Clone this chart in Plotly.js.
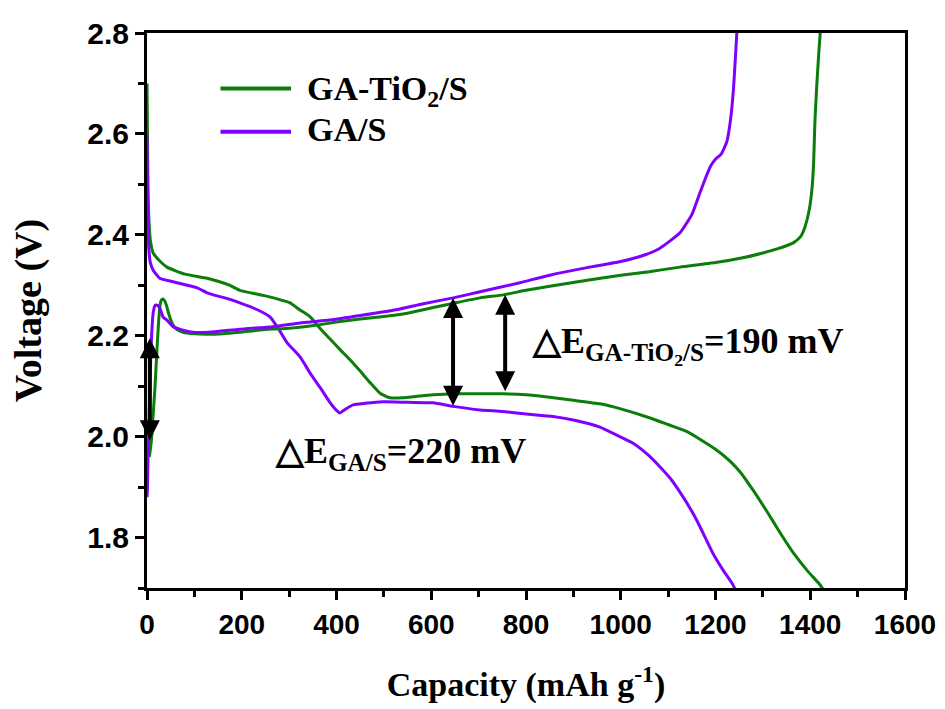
<!DOCTYPE html>
<html>
<head>
<meta charset="utf-8">
<script src="https://cdn.plot.ly/plotly-3.0.1.min.js"></script>
<style>html,body{margin:0;padding:0;background:#fff;}#chart{width:945px;height:709px;}</style>
</head>
<body>
<div id="chart"></div>
<script>
// GA-TiO2/S discharge
const capGTdis = [0, 1, 2, 4, 7, 13, 25, 42, 80, 127, 175, 196, 245, 275, 302, 323, 344, 365, 386, 407, 429, 450, 470, 492, 513, 540, 570, 604, 650, 703, 750, 800, 850, 900, 956, 1000, 1062, 1100, 1140, 1167, 1200, 1230, 1252, 1280, 1309, 1336, 1364, 1395, 1421, 1432];
const vGTdis = [2.70, 2.60, 2.50, 2.43, 2.39, 2.364, 2.35, 2.336, 2.322, 2.314, 2.30, 2.29, 2.28, 2.273, 2.265, 2.251, 2.238, 2.215, 2.194, 2.173, 2.152, 2.13, 2.108, 2.086, 2.077, 2.077, 2.08, 2.083, 2.085, 2.085, 2.085, 2.083, 2.078, 2.072, 2.065, 2.055, 2.037, 2.024, 2.01, 1.995, 1.975, 1.952, 1.93, 1.893, 1.851, 1.81, 1.77, 1.733, 1.706, 1.69];
// GA-TiO2/S charge
const capGTch = [5, 9, 12, 17, 21, 24, 27, 30, 34, 38, 42, 47, 53, 62, 76, 100, 127, 160, 196, 245, 300, 323, 365, 400, 450, 500, 534, 576, 604, 650, 703, 752, 800, 850, 929, 1000, 1060, 1125, 1200, 1260, 1300, 1330, 1364, 1380, 1389, 1398, 1404, 1407, 1410, 1414, 1418, 1421];
const vGTch = [1.96, 1.99, 2.03, 2.10, 2.172, 2.22, 2.257, 2.27, 2.273, 2.268, 2.257, 2.24, 2.225, 2.213, 2.207, 2.204, 2.203, 2.204, 2.207, 2.212, 2.215, 2.217, 2.222, 2.227, 2.233, 2.238, 2.242, 2.25, 2.256, 2.265, 2.275, 2.281, 2.29, 2.298, 2.31, 2.32, 2.327, 2.336, 2.345, 2.355, 2.364, 2.372, 2.384, 2.397, 2.416, 2.45, 2.495, 2.54, 2.628, 2.7, 2.76, 2.8];
// GA/S discharge
const capGdis = [0, 1, 2, 4, 7, 13, 27, 55, 106, 127, 175, 196, 232, 260, 280, 296, 323, 345, 365, 386, 400, 407, 420, 435, 460, 498, 550, 604, 646, 703, 750, 800, 857, 900, 956, 998, 1026, 1060, 1083, 1104, 1125, 1150, 1167, 1195, 1215, 1237, 1245];
const vGdis = [2.60, 2.50, 2.42, 2.37, 2.345, 2.33, 2.314, 2.307, 2.295, 2.285, 2.272, 2.265, 2.252, 2.237, 2.21, 2.186, 2.158, 2.125, 2.098, 2.068, 2.052, 2.047, 2.055, 2.063, 2.066, 2.069, 2.068, 2.067, 2.06, 2.053, 2.05, 2.045, 2.04, 2.033, 2.019, 2.0, 1.987, 1.962, 1.94, 1.918, 1.89, 1.852, 1.822, 1.768, 1.737, 1.706, 1.69];
// GA/S charge
const capGch = [0, 1, 2, 4, 6, 8, 10, 13, 17, 22, 27, 34, 42, 55, 63, 80, 97, 130, 196, 266, 323, 386, 450, 534, 576, 646, 703, 787, 850, 929, 1000, 1050, 1080, 1100, 1125, 1150, 1167, 1180, 1190, 1200, 1212, 1224, 1232, 1238, 1245];
const vGch = [1.88, 1.90, 1.95, 2.02, 2.10, 2.16, 2.205, 2.245, 2.26, 2.26, 2.255, 2.237, 2.231, 2.218, 2.215, 2.21, 2.207, 2.207, 2.213, 2.218, 2.225, 2.231, 2.24, 2.253, 2.262, 2.275, 2.287, 2.305, 2.32, 2.335, 2.347, 2.36, 2.372, 2.385, 2.404, 2.44, 2.483, 2.515, 2.537, 2.55, 2.56, 2.585, 2.63, 2.69, 2.8];

const seriesNames = ['GA-TiO<sub>2</sub>/S', 'GA/S'];
const seriesColors = ['#0a7d0a', '#8000ff'];

// polarization arrows
const arrowCap = [6, 646, 756];
const arrowTop = [2.195, 2.275, 2.281];
const arrowBottom = [1.99, 2.058, 2.087];

const labelTexts = ['△E<sub>GA/S</sub>=220 mV', '△E<sub>GA-TiO<sub>2</sub>/S</sub>=190 mV'];
const labelCap = [266, 808];
const labelV = [1.966, 2.18];

const xTicks = [0, 200, 400, 600, 800, 1000, 1200, 1400, 1600];
const yTicks = [1.8, 2.0, 2.2, 2.4, 2.6, 2.8];

const lineW = 3;
const traces = [
  {x: capGTdis, y: vGTdis, name: seriesNames[0], legendgroup: 'a', line: {color: seriesColors[0]}},
  {x: capGdis, y: vGdis, name: seriesNames[1], legendgroup: 'b', line: {color: seriesColors[1]}},
  {x: capGTch, y: vGTch, name: seriesNames[0], legendgroup: 'a', line: {color: seriesColors[0]}},
  {x: capGch, y: vGch, name: seriesNames[1], legendgroup: 'b', line: {color: seriesColors[1]}}
].map(t => Object.assign({type: 'scatter', mode: 'lines', hoverinfo: 'skip', showlegend: false}, t, {line: Object.assign({width: lineW, shape: 'spline', smoothing: 0.5}, t.line)}));

const serifBold = {family: 'Liberation Serif, Times New Roman, serif', color: '#000', weight: 'bold'};

const annotations = [];
arrowCap.forEach((c, i) => {
  annotations.push({
    x: c, y: arrowTop[i], ax: c, ay: arrowBottom[i], xref: 'x', yref: 'y', axref: 'x', ayref: 'y',
    text: '', showarrow: true, arrowhead: 2, startarrowhead: 2, arrowside: 'end+start',
    arrowsize: 1, startarrowsize: 1, arrowwidth: 4, arrowcolor: '#000', standoff: 0, startstandoff: 0
  });
});
labelTexts.forEach((t, i) => {
  annotations.push({
    x: labelCap[i], y: labelV[i], xref: 'x', yref: 'y', text: t, showarrow: false,
    xanchor: 'left', yanchor: 'middle', font: Object.assign({size: 36}, serifBold)
  });
});

// legend (drawn in paper coordinates, top-left of the plot)
const legendY = [0.9, 0.822];
const shapes = [];
seriesNames.forEach((n, i) => {
  shapes.push({type: 'line', xref: 'paper', yref: 'paper', x0: 0.097, x1: 0.19, y0: legendY[i], y1: legendY[i],
               line: {color: seriesColors[i], width: 4}});
  annotations.push({xref: 'paper', yref: 'paper', x: 0.208, y: legendY[i] + (i === 0 ? -0.004 : 0.004), text: n, showarrow: false,
                    xanchor: 'left', yanchor: 'middle', font: Object.assign({size: 34}, serifBold)});
});

const xTickFont = {family: 'Liberation Sans, Arial, sans-serif', size: 28, color: '#000', weight: 'bold'};
const yTickFont = {family: 'Liberation Sans, Arial, sans-serif', size: 30, color: '#000', weight: 'bold'};

const layout = {
  width: 945, height: 709,
  margin: {l: 147, r: 40, t: 33, b: 121},
  paper_bgcolor: '#fff', plot_bgcolor: '#fff',
  showlegend: false,
  xaxis: {
    range: [0, 1600], tickvals: xTicks, ticktext: xTicks.map(String),
    showgrid: false, zeroline: false, showline: true, linewidth: 3, linecolor: '#000', mirror: true,
    ticks: 'outside', ticklen: 9, tickwidth: 3, tickcolor: '#000', tickfont: xTickFont,
    minor: {dtick: 100, ticks: 'outside', ticklen: 6, tickwidth: 3, tickcolor: '#000', showgrid: false},
    title: {text: 'Capacity (mAh g<sup>-1</sup>)', font: Object.assign({size: 34}, serifBold), standoff: 34}
  },
  yaxis: {
    range: [1.7, 2.8], tickvals: yTicks, ticktext: yTicks.map(v => v.toFixed(1)),
    showgrid: false, zeroline: false, showline: true, linewidth: 3, linecolor: '#000', mirror: true,
    ticks: 'outside', ticklen: 9, tickwidth: 3, tickcolor: '#000', tickfont: yTickFont,
    minor: {dtick: 0.1, ticks: 'outside', ticklen: 6, tickwidth: 3, tickcolor: '#000', showgrid: false},
    title: {text: 'Voltage (V)', font: Object.assign({size: 38}, serifBold), standoff: 34}
  },
  shapes: shapes,
  annotations: annotations
};

Plotly.newPlot('chart', traces, layout, {displayModeBar: false, staticPlot: true});
</script>
</body>
</html>
